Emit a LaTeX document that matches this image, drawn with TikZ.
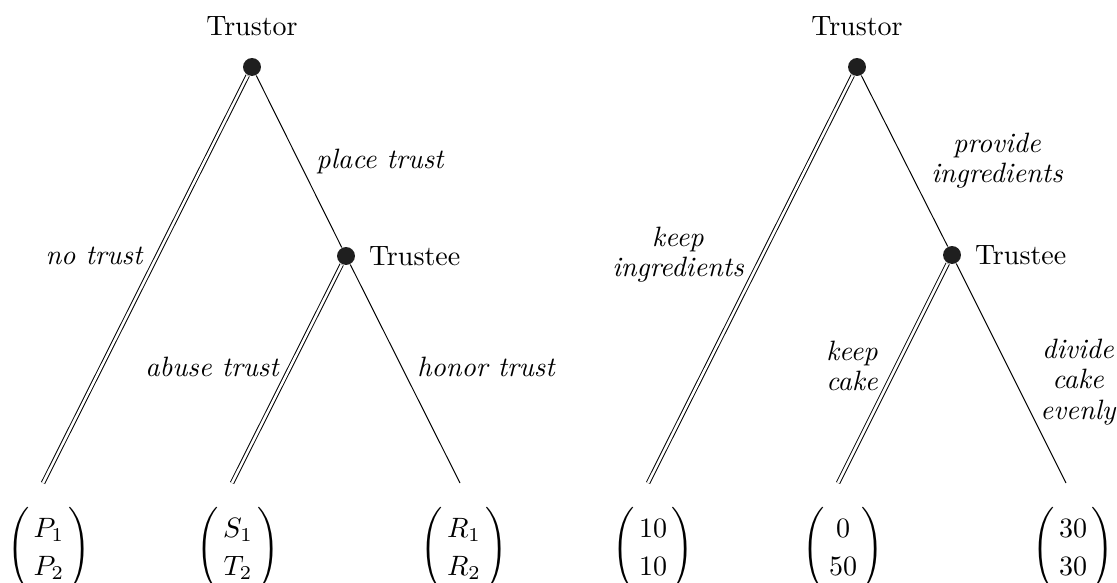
\documentclass[tikz,border=0pt]{standalone}
\usepackage{amsmath}
\usetikzlibrary{positioning}
\renewcommand{\arraystretch}{1.13}
\setlength{\arraycolsep}{1.6pt}
\newcommand{\payoff}[2]{$\left(\begin{array}{c} #1\\ #2 \end{array}\right)$}

\begin{document}
\begin{tikzpicture}[x=1.255cm,y=1.255cm,
    decision/.style={circle,fill=black!88,inner sep=0pt,minimum size=6.4pt},
    play/.style={draw,line width=0.35pt},
    dblplay/.style={draw,line width=0.35pt,double,double distance=0.9pt},
    move/.style={font=\itshape,align=center}]
        \useasboundingbox (0,0) rectangle (11.17,5.83);

        % trust game
        \node[decision] (r1) at (2.52,5.16) {};
        \node[decision] (t1) at (3.46,3.27) {};
        \coordinate (l1) at (0.43,1.00);
        \coordinate (l2) at (2.32,1.00);
        \coordinate (l3) at (4.60,1.00);

        \node[above=4.3pt of r1] (r1lbl) {Trustor};
        \node[right=1.3pt of t1] (t1lbl) {Trustee};

        \draw[dblplay] (r1) -- (l1);
        \draw[play] (r1) -- (t1);
        \draw[dblplay] (t1) -- (l2);
        \draw[play] (t1) -- (l3);

        \node[move] (notrust) at (0.94,3.27) {no trust};
        \node[move] (place) at (3.80,4.21) {place trust};
        \node[move] (abuse) at (2.12,2.16) {abuse trust};
        \node[move] (honor) at (4.86,2.16) {honor trust};

        \node (p1) at (0.49,0.34) {\payoff{P_1}{P_2}};
        \node (p2) at (2.38,0.34) {\payoff{S_1}{T_2}};
        \node (p3) at (4.64,0.34) {\payoff{R_1}{R_2}};

        % cake game
        \node[decision] (r2) at (8.57,5.16) {};
        \node[decision] (t2) at (9.52,3.28) {};
        \coordinate (k1) at (6.48,1.00);
        \coordinate (k2) at (8.38,1.00);
        \coordinate (k3) at (10.66,1.00);

        \node[above=4.3pt of r2] (r2lbl) {Trustor};
        \node[right=1.3pt of t2] (t2lbl) {Trustee};

        \draw[dblplay] (r2) -- (k1);
        \draw[play] (r2) -- (t2);
        \draw[dblplay] (t2) -- (k2);
        \draw[play] (t2) -- (k3);

        \node[move] (keepi) at (6.78,3.28) {keep\\[-1.2pt] ingredients};
        \node[move] (provide) at (9.97,4.22) {provide\\[-1.2pt] ingredients};
        \node[move] (keepc) at (8.52,2.17) {keep\\[-1.2pt] cake};
        \node[move] (divide) at (10.78,2.01) {divide\\[-1.2pt] cake\\[-1.2pt] evenly};

        \node (q1) at (6.53,0.34) {\payoff{10}{10}};
        \node (q2) at (8.43,0.34) {\payoff{0}{50}};
        \node (q3) at (10.73,0.34) {\payoff{30}{30}};
\end{tikzpicture}
\end{document}
